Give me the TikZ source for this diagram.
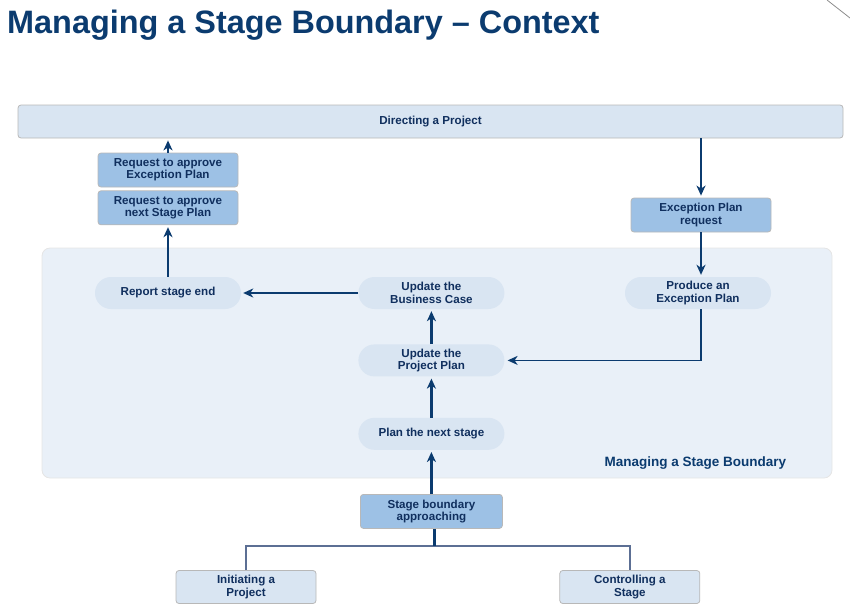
\documentclass[tikz,border=0pt]{standalone}
\usepackage{fontspec}
\setmainfont{Liberation Sans}
\usetikzlibrary{arrows.meta,positioning}
\definecolor{PRnavy}{HTML}{0B3B6F}
\definecolor{PRtext}{HTML}{102F5E}
\definecolor{PRdark}{HTML}{9DC1E5}
\definecolor{PRlight}{HTML}{D9E5F2}
\definecolor{PRpanel}{HTML}{E9F0F8}
\definecolor{PRline}{HTML}{5C6F94}
\tikzset{
  ctx/trigger/.style={draw=black!28, fill=PRdark, rounded corners=3pt, line width=0.8pt, minimum width=140pt, minimum height=34pt,
    align=center, text=PRtext, font=\bfseries\fontsize{11.6}{12.4}\selectfont, inner sep=2pt},
  ctx/process/.style={ctx/trigger, fill=PRlight},
  ctx/activity/.style={fill=PRlight, rounded corners=16pt, minimum width=146pt, minimum height=32pt,
    align=center, text=PRtext, font=\bfseries\fontsize{11.6}{12.4}\selectfont, inner sep=2pt},
  ctx/panel/.style={fill=PRpanel, draw=black!10, line width=0.8pt, rounded corners=8pt},
  ctx/title/.style={inner sep=0pt, text=PRnavy, font=\bfseries\fontsize{32.4}{36}\selectfont},
  arr/.style={-{Stealth[length=10pt,width=9pt,inset=3pt]}, line width=2.2pt, draw=PRnavy, shorten >=2pt},
  link/.style={line width=1.5pt, draw=PRline}
}
\begin{document}
\begin{tikzpicture}[x=1pt, y=1pt, node distance=6pt]
\useasboundingbox (0,0) rectangle (850,-611);
\draw[black!45, line width=0.8pt] (827,0) -- (850,-18);
\node[ctx/title, anchor=base west] (title) at (7,-33) {Managing a Stage Boundary -- Context};

\node[ctx/process, minimum width=825pt, minimum height=33pt] (dap) at (430.5,-121.5) {Directing a Project};
\node[ctx/panel, minimum width=790pt, minimum height=230pt] (msb) at (437,-363) {};
\node[anchor=base east, inner sep=0pt, text=PRnavy, font=\bfseries\fontsize{13.5}{15}\selectfont]
  (msblabel) at ([xshift=-46pt, yshift=11.5pt]msb.south east) {Managing a Stage Boundary};

\node[ctx/trigger] (reqep) at (168,-170) {Request to approve\\Exception Plan};
\node[ctx/trigger, below=3pt of reqep] (reqsp) {Request to approve\\next Stage Plan};
\node[ctx/activity] (rse) at (168,-293) {Report stage end};
\node[ctx/activity, right=117pt of rse] (ubc) {Update the\\Business Case};
\node[ctx/activity, below=35pt of ubc] (upp) {Update the\\Project Plan};
\node[ctx/activity, below=41pt of upp] (pns) {Plan the next stage};
\node[ctx/trigger, minimum width=142pt, below=44pt of pns] (sba) {Stage boundary\\approaching};
\node[ctx/trigger] (epr) at (701,-215) {Exception Plan\\request};
\node[ctx/activity] (pep) at (698,-293) {Produce an\\Exception Plan};
\node[ctx/process, minimum height=33pt] (init) at (246,-587) {Initiating a\\Project};
\node[ctx/process, minimum height=33pt, right=243pt of init] (ctrl) {Controlling a\\Stage};
\coordinate (fork) at ([xshift=3pt, yshift=-17pt]sba.south);

\draw[arr] (reqep) -- (reqep |- dap.south);
\draw[arr] (rse) -- (reqsp);
\draw[arr] (ubc) -- (rse);
\draw[arr] (upp) -- (ubc);
\draw[arr] (pns) -- (upp);
\draw[arr] (sba) -- (pns);
\draw[arr] (dap.south -| epr) -- (epr);
\draw[arr] (epr) -- (epr |- pep.north);
\draw[arr, line width=1.5pt, shorten >=3pt] (epr |- pep.south) |- (upp.east);
\draw[link] (init.north) |- (fork) -| (ctrl.north);
\draw[line width=2.2pt, PRnavy] (fork |- sba.south) -- (fork);
\end{tikzpicture}
\end{document}
